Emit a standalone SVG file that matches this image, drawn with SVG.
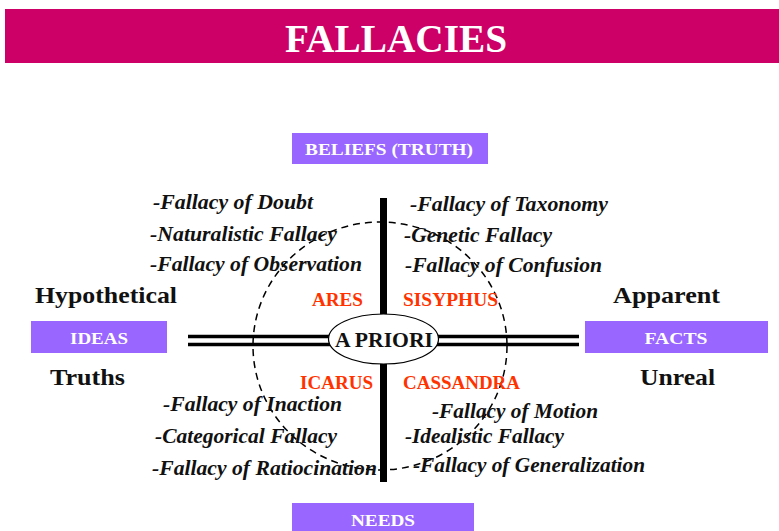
<svg xmlns="http://www.w3.org/2000/svg" width="779" height="531" viewBox="0 0 779 531">
  <style>
    .serif { font-family: "Liberation Serif", "Times New Roman", serif; font-weight: bold; }
    .box { fill: #9966FF; }
    .boxtxt { fill: #FFFFFF; font-size: 17px; text-anchor: middle; }
    .fallacy { font-style: italic; font-size: 20px; fill: #111111; }
    .pole { font-size: 24px; fill: #111111; }
    .myth { font-size: 18px; fill: #FF3300; }
    .axis { stroke: #000000; stroke-width: 3.5; fill: none; }
  </style>

  <rect x="0" y="0" width="779" height="531" fill="#FFFFFF"/>

  <!-- title banner -->
  <g id="title">
    <rect x="5" y="9" width="774" height="54" fill="#CC0066"/>
    <text class="serif" x="396" y="52" font-size="40" fill="#FFFFFF" text-anchor="middle" textLength="222" lengthAdjust="spacingAndGlyphs">FALLACIES</text>
  </g>

  <!-- connectors: axes and the dashed cycle -->
  <g id="connectors">
    <line x1="383.5" y1="198" x2="383.5" y2="482" stroke="#000000" stroke-width="7"/>
    <line class="axis" x1="188" y1="336.5" x2="330" y2="336.5"/>
    <line class="axis" x1="188" y1="344.5" x2="330" y2="344.5"/>
    <line class="axis" x1="437" y1="336.5" x2="579" y2="336.5"/>
    <line class="axis" x1="437" y1="344.5" x2="579" y2="344.5"/>
    <ellipse cx="380" cy="346" rx="127" ry="124" fill="none" stroke="#000000" stroke-width="1.5" stroke-dasharray="7,5"/>
  </g>

  <!-- centre node -->
  <g id="a-priori">
    <ellipse cx="383.5" cy="339" rx="55" ry="25" fill="#FFFFFF" stroke="#000000" stroke-width="1.2"/>
    <text class="serif" x="384" y="347" font-size="21" fill="#111111" text-anchor="middle" textLength="98" lengthAdjust="spacingAndGlyphs">A PRIORI</text>
  </g>

  <!-- quadrant boxes -->
  <g id="beliefs">
    <rect class="box" x="292" y="133" width="196" height="31"/>
    <text class="serif boxtxt" x="389" y="155" textLength="168" lengthAdjust="spacingAndGlyphs">BELIEFS (TRUTH)</text>
  </g>
  <g id="ideas">
    <rect class="box" x="31" y="321" width="136" height="32"/>
    <text class="serif boxtxt" x="99" y="344" textLength="58" lengthAdjust="spacingAndGlyphs">IDEAS</text>
  </g>
  <g id="facts">
    <rect class="box" x="585" y="321" width="183" height="32"/>
    <text class="serif boxtxt" x="676" y="344" textLength="63" lengthAdjust="spacingAndGlyphs">FACTS</text>
  </g>
  <g id="needs">
    <rect class="box" x="292" y="503" width="182" height="28"/>
    <text class="serif boxtxt" x="383" y="526" textLength="64" lengthAdjust="spacingAndGlyphs">NEEDS</text>
  </g>

  <!-- pole labels -->
  <g id="poles">
    <text class="serif pole" x="35" y="303" textLength="142" lengthAdjust="spacingAndGlyphs">Hypothetical</text>
    <text class="serif pole" x="50" y="385" textLength="75" lengthAdjust="spacingAndGlyphs">Truths</text>
    <text class="serif pole" x="613" y="303" textLength="107" lengthAdjust="spacingAndGlyphs">Apparent</text>
    <text class="serif pole" x="640" y="385" textLength="75" lengthAdjust="spacingAndGlyphs">Unreal</text>
  </g>

  <!-- quadrant names -->
  <g id="myths">
    <text class="serif myth" x="312" y="306" textLength="51" lengthAdjust="spacingAndGlyphs">ARES</text>
    <text class="serif myth" x="403" y="306" textLength="95" lengthAdjust="spacingAndGlyphs">SISYPHUS</text>
    <text class="serif myth" x="300" y="389" textLength="73" lengthAdjust="spacingAndGlyphs">ICARUS</text>
    <text class="serif myth" x="403" y="389" textLength="117" lengthAdjust="spacingAndGlyphs">CASSANDRA</text>
  </g>

  <!-- fallacy lists -->
  <g id="fallacies-upper-left">
    <text class="serif fallacy" x="153" y="209" textLength="160" lengthAdjust="spacingAndGlyphs">-Fallacy of Doubt</text>
    <text class="serif fallacy" x="150" y="241" textLength="187" lengthAdjust="spacingAndGlyphs">-Naturalistic Fallacy</text>
    <text class="serif fallacy" x="150" y="271" textLength="212" lengthAdjust="spacingAndGlyphs">-Fallacy of Observation</text>
  </g>
  <g id="fallacies-upper-right">
    <text class="serif fallacy" x="410" y="211" textLength="198" lengthAdjust="spacingAndGlyphs">-Fallacy of Taxonomy</text>
    <text class="serif fallacy" x="404" y="242" textLength="148" lengthAdjust="spacingAndGlyphs">-Genetic Fallacy</text>
    <text class="serif fallacy" x="405" y="272" textLength="197" lengthAdjust="spacingAndGlyphs">-Fallacy of Confusion</text>
  </g>
  <g id="fallacies-lower-left">
    <text class="serif fallacy" x="163" y="411" textLength="179" lengthAdjust="spacingAndGlyphs">-Fallacy of Inaction</text>
    <text class="serif fallacy" x="155" y="443" textLength="182" lengthAdjust="spacingAndGlyphs">-Categorical Fallacy</text>
    <text class="serif fallacy" x="152" y="475" textLength="225" lengthAdjust="spacingAndGlyphs">-Fallacy of Ratiocination</text>
  </g>
  <g id="fallacies-lower-right">
    <text class="serif fallacy" x="432" y="418" textLength="166" lengthAdjust="spacingAndGlyphs">-Fallacy of Motion</text>
    <text class="serif fallacy" x="405" y="443" textLength="159" lengthAdjust="spacingAndGlyphs">-Idealistic Fallacy</text>
    <text class="serif fallacy" x="413" y="472" textLength="232" lengthAdjust="spacingAndGlyphs">-Fallacy of Generalization</text>
  </g>
</svg>
